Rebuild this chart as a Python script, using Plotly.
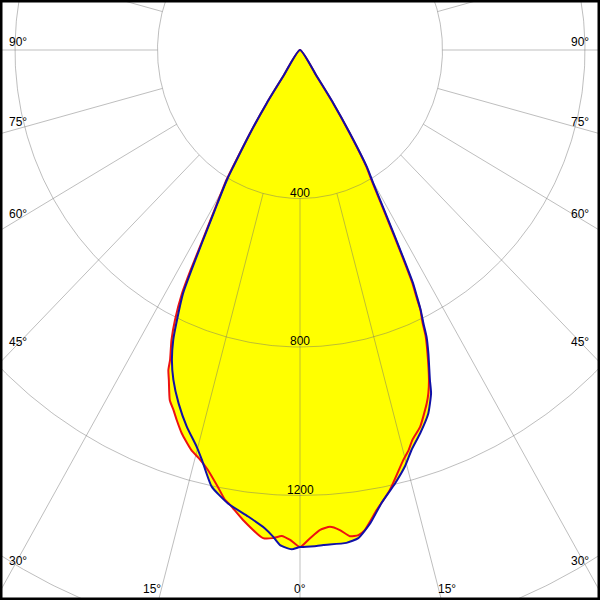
import numpy as np
import plotly.graph_objects as go

# ---- data (gamma angle in degrees, 0 = straight down, + = right; luminous intensity cd) ----
blue_deg = [-35, -33.6, -33.1, -32.0, -30.8, -30.4, -29.0, -27.9, -27.2, -26.6, -25.4, -24.5,
            -23.3, -21.8, -19.7, -17.4, -15.2, -14.0, -11.9, -9.4, -6.6, -4.4, -3.3, -2.4,
            -1.0, 0.0, 2.0, 2.8, 5.6, 7.1, 8.8, 10.6, 12.9, 14.7, 16.2, 18.1, 20.2, 21.7,
            22.3, 23.8, 24.7, 25.2, 25.8, 26.3, 26.8, 27.5, 28.4, 29.8, 30.8, 32.0, 33.1,
            33.6, 35]
blue_cd = [0, 86, 171, 265, 366, 406, 493, 589, 666, 733, 805, 858, 909, 957, 1011, 1063,
           1107, 1138, 1202, 1238, 1265, 1292, 1313, 1335, 1345, 1339, 1337, 1335, 1334,
           1325, 1290, 1242, 1197, 1160, 1122, 1086, 1043, 995, 961, 893, 850, 814, 779,
           741, 704, 618, 521, 414, 366, 265, 171, 86, 0]

red_deg = [-35, -33.6, -33.1, -32.0, -30.9, -30.5, -29.1, -28.0, -27.4, -26.8, -25.75, -24.8,
           -23.6, -23.2, -22.5, -21.2, -20.1, -19.15, -17.8, -15.8, -14.45, -12.9, -11.1,
           -9.85, -9.1, -7.2, -4.5, -3.3, -2.25, -1.2, 0.0, 1.2, 2.5, 3.75, 4.95, 6.1, 7.15,
           8.0, 9.85, 12.0, 14.7, 15.8, 16.7, 18.4, 20.5, 21.3, 22.2, 23.7, 24.6, 25.1,
           25.8, 26.2, 26.7, 27.4, 28.3, 29.7, 30.7, 31.9, 33.0, 33.5, 35]
red_cd = [0, 86, 171, 266, 368, 408, 495, 590, 667, 735, 808, 860, 911, 938, 962, 1011, 1033,
          1055, 1085, 1120, 1136, 1160, 1199, 1230, 1241, 1276, 1319, 1317, 1310, 1320, 1339,
          1316, 1294, 1287, 1298, 1317, 1317, 1306, 1258, 1212, 1142, 1120, 1097, 1069, 1016,
          992, 958, 890, 847, 811, 776, 738, 701, 615, 518, 411, 363, 262, 168, 84, 0]

ring_values = [400, 800, 1200, 1600]
ring_labels = ["400", "800", "1200"]
spoke_step = 15
angle_tick_labels = ["90°", "75°", "60°", "45°", "30°", "15°", "0°"]


def to_xy(deg, cd):
    g = np.radians(np.asarray(deg, dtype=float))
    r = np.asarray(cd, dtype=float)
    return r * np.sin(g), -r * np.cos(g)


fig = go.Figure()
SMOOTH = 0.5

# yellow filled areas (union of both planes)
for deg, cd in ((red_deg, red_cd), (blue_deg, blue_cd)):
    x, y = to_xy(deg, cd)
    fig.add_trace(go.Scatter(x=x, y=y, mode="lines", fill="toself", fillcolor="#ffff00",
                             line=dict(color="rgba(0,0,0,0)", width=0, shape="spline",
                                       smoothing=SMOOTH),
                             hoverinfo="skip"))

# grid: circles and spokes
grid_col = "rgba(110,110,110,0.45)"
t = np.linspace(0, 360, 721)
gx, gy = [], []
for rv in ring_values:
    x, y = to_xy(t, np.full_like(t, rv))
    gx += list(x) + [None]
    gy += list(y) + [None]
for a in range(0, 360, spoke_step):
    x, y = to_xy([a, a], [ring_values[0], 3000])
    gx += list(x) + [None]
    gy += list(y) + [None]
fig.add_trace(go.Scatter(x=gx, y=gy, mode="lines", line=dict(color=grid_col, width=1),
                         hoverinfo="skip"))

# curves
x, y = to_xy(red_deg, red_cd)
fig.add_trace(go.Scatter(x=x, y=y, mode="lines",
                         line=dict(color="#ee1111", width=2, shape="spline", smoothing=SMOOTH),
                         hoverinfo="skip"))
x, y = to_xy(blue_deg, blue_cd)
fig.add_trace(go.Scatter(x=x, y=y, mode="lines",
                         line=dict(color="#1010a8", width=2, shape="spline", smoothing=SMOOTH),
                         hoverinfo="skip"))

font = dict(family="Liberation Sans, Arial, sans-serif", size=12, color="black")
annotations = []
for rv, lab in zip(ring_values, ring_labels):
    annotations.append(dict(x=0, y=-rv, xref="x", yref="y", text=lab, showarrow=False,
                            xanchor="center", yanchor="bottom", yshift=-3, font=font))

# angle labels at the frame edges (pixel positions)
left_pos = [41.5, 121.5, 214.5, 342, 561]
for lab, py in zip(angle_tick_labels[:5], left_pos):
    annotations.append(dict(x=7 / 600, y=1 - py / 600, xref="paper", yref="paper", text=lab,
                            showarrow=False, xanchor="left", yanchor="middle", font=font))
    annotations.append(dict(x=591 / 600, y=1 - py / 600, xref="paper", yref="paper", text=lab,
                            showarrow=False, xanchor="right", yanchor="middle", font=font))
for lab, px in ((angle_tick_labels[5], 151.5), (angle_tick_labels[6], 300),
                (angle_tick_labels[5], 446.5)):
    annotations.append(dict(x=px / 600, y=1 - 589 / 600, xref="paper", yref="paper", text=lab,
                            showarrow=False, xanchor="center", yanchor="middle", font=font))

kx, ky = 0.35625, 0.37125  # px per cd
fig.update_layout(
    width=600, height=600, margin=dict(l=0, r=0, t=0, b=0),
    paper_bgcolor="white", plot_bgcolor="white", showlegend=False,
    xaxis=dict(range=[-300 / kx, 300 / kx], visible=False, fixedrange=True),
    yaxis=dict(range=[-550 / ky, 50 / ky], visible=False, fixedrange=True),
    annotations=annotations,
    shapes=[dict(type="rect", xref="paper", yref="paper", x0=0, y0=0, x1=1, y1=1,
                 line=dict(color="black", width=5), fillcolor="rgba(0,0,0,0)")],
)

fig.write_html("out.html", config={"displayModeBar": False},
               post_script="document.body.style.margin='0';document.body.style.overflow='hidden';")
